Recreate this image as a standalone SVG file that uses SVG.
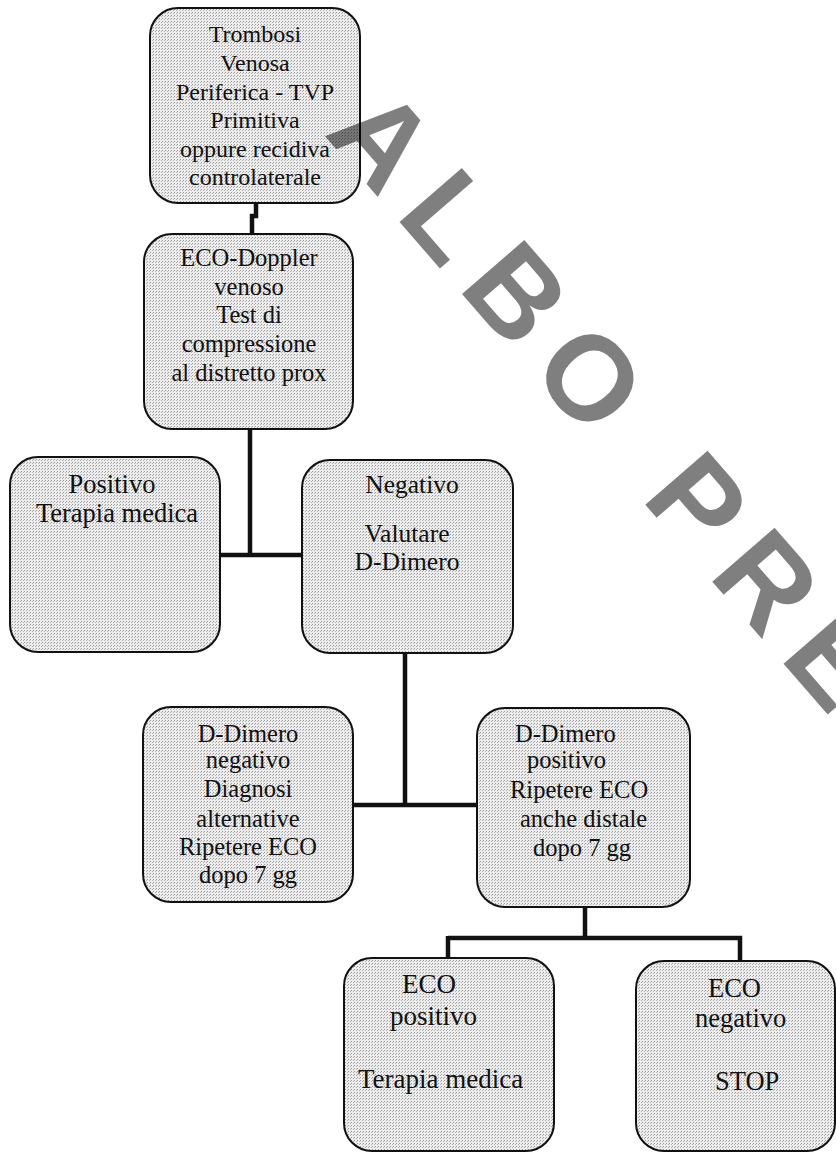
<svg xmlns="http://www.w3.org/2000/svg" width="836" height="1153" viewBox="0 0 836 1153">
<defs>
<pattern id="stip" width="3" height="3" patternUnits="userSpaceOnUse">
<rect width="3" height="3" fill="#ededed"/>
<rect x="0" y="0" width="1" height="1" fill="#9a9a9a"/>
<rect x="2" y="1" width="1" height="1" fill="#b0b0b0"/>
</pattern>
</defs>
<style>
.box{fill:url(#stip);stroke:#111;stroke-width:2}
.t{font-family:"Liberation Serif","Times New Roman",serif;fill:#111}
.c{text-anchor:middle}
.con{fill:none;stroke:#111;stroke-width:4.5}
.wm{font-family:"Liberation Sans",Arial,sans-serif;font-weight:bold;fill:#000;fill-opacity:0.5}
</style>
<rect width="836" height="1153" fill="#fff"/>
<g id="connectors">
<path class="con" d="M256,203 V216 H252 V234"/>
<path class="con" d="M250,429 V555 M220,555 H302"/>
<path class="con" d="M405,653 V805 M353,805 H477"/>
<path class="con" d="M585,907 V938 M448,938 H742 M448,936 V958 M740,936 V961"/>
</g>
<g id="n1">
<rect class="box" x="150" y="8" width="210" height="195" rx="28"/>
<text class="t c" font-size="24" x="255"><tspan x="255" y="42">Trombosi</tspan><tspan x="255" y="71">Venosa</tspan><tspan x="255" y="100">Periferica - TVP</tspan><tspan x="255" y="128">Primitiva</tspan><tspan x="255" y="157">oppure recidiva</tspan><tspan x="255" y="185">controlaterale</tspan></text>
</g>
<g id="n2">
<rect class="box" x="144" y="234" width="209" height="195" rx="28"/>
<text class="t c" font-size="24.5"><tspan x="249" y="266">ECO-Doppler</tspan><tspan x="249" y="295">venoso</tspan><tspan x="249" y="323">Test di</tspan><tspan x="249" y="352">compressione</tspan><tspan x="249" y="381">al distretto prox</tspan></text>
</g>
<g id="n3">
<rect class="box" x="10" y="457" width="210" height="195" rx="28"/>
<text class="t c" font-size="26.5"><tspan x="112" y="493">Positivo</tspan><tspan x="117" y="522">Terapia medica</tspan></text>
</g>
<g id="n4">
<rect class="box" x="302" y="460" width="211" height="193" rx="28"/>
<text class="t c" font-size="25.5"><tspan x="412" y="493">Negativo</tspan><tspan x="407" y="542">Valutare</tspan><tspan x="407" y="570">D-Dimero</tspan></text>
</g>
<g id="n5">
<rect class="box" x="143" y="707" width="210" height="195" rx="28"/>
<text class="t c" font-size="24.5"><tspan x="248" y="742">D-Dimero</tspan><tspan x="248" y="768">negativo</tspan><tspan x="248" y="797">Diagnosi</tspan><tspan x="248" y="827">alternative</tspan><tspan x="248" y="855">Ripetere ECO</tspan><tspan x="248" y="883">dopo 7 gg</tspan></text>
</g>
<g id="n6">
<rect class="box" x="477" y="708" width="213" height="199" rx="28"/>
<text class="t" font-size="24.5"><tspan x="515" y="742">D-Dimero</tspan><tspan x="527" y="768">positivo</tspan><tspan x="510" y="798">Ripetere ECO</tspan><tspan x="520" y="827">anche distale</tspan><tspan x="533" y="856">dopo 7 gg</tspan></text>
</g>
<g id="n7">
<rect class="box" x="344" y="958" width="210" height="193" rx="28"/>
<text class="t" font-size="27"><tspan x="402" y="993">ECO</tspan><tspan x="390" y="1025">positivo</tspan><tspan x="358" y="1088">Terapia medica</tspan></text>
</g>
<g id="n8">
<rect class="box" x="636" y="961" width="199" height="190" rx="28"/>
<text class="t" font-size="26.5"><tspan x="708" y="997">ECO</tspan><tspan x="695" y="1027">negativo</tspan><tspan x="715" y="1090">STOP</tspan></text>
</g>
<text class="wm" font-size="120" letter-spacing="22" transform="translate(323,134) rotate(49)">ALBO PRE</text>
</svg>
